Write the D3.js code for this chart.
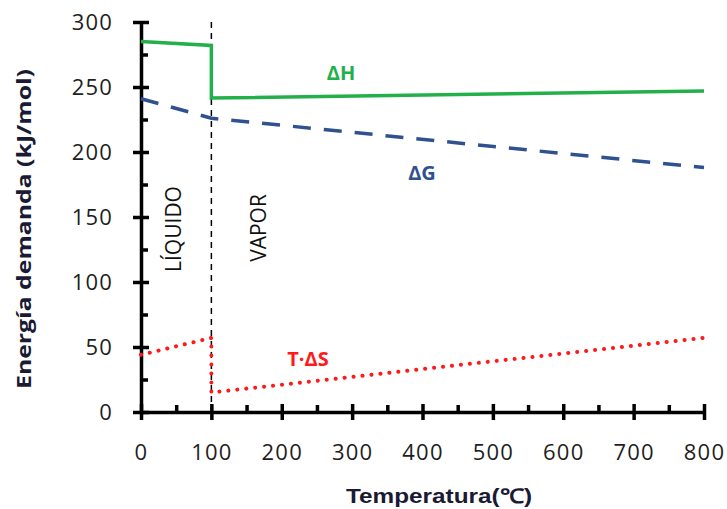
<!DOCTYPE html>
<html lang="es">
<head>
<meta charset="UTF-8">
<script src="https://d3js.org/d3.v7.min.js"></script>
<style>
  body { margin:0; background:#fff; }
  svg { display:block; font-family:"Open Sans", "Liberation Sans", sans-serif; }
  .lbl { font-weight:bold; font-size:20px; }
</style>
</head>
<body>
<svg id="chart" width="727" height="509"></svg>
<script>
// data
const dH_T = [0, 100, 100, 800];
const dH_E = [285, 282, 241.5, 247];
const dG_T = [0, 100, 800];
const dG_E = [241, 226, 188];
const tS_T = [0, 100, 100, 800];
const tS_E = [44, 57, 15, 57];
const xTicks = [0, 100, 200, 300, 400, 500, 600, 700, 800];
const yTicks = [0, 50, 100, 150, 200, 250, 300];

const svg = d3.select("#chart");
const margin = {top: 22, right: 23, bottom: 97, left: 141};
const x = d3.scaleLinear().domain([0, 800]).range([margin.left, 727 - margin.right]);
const y = d3.scaleLinear().domain([0, 300]).range([509 - margin.bottom, margin.top]);

// minor ticks
svg.append("g")
  .attr("transform", `translate(0,${y(0)})`)
  .call(d3.axisTop(x).tickValues(d3.range(50, 800, 100)).tickSize(7).tickFormat(""))
  .call(g => g.select(".domain").remove())
  .selectAll("line").attr("stroke", "#000").attr("stroke-width", 3);
svg.append("g")
  .attr("transform", `translate(${x(0)},0)`)
  .call(d3.axisRight(y).tickValues(d3.range(25, 300, 50)).tickSize(7).tickFormat(""))
  .call(g => g.select(".domain").remove())
  .selectAll("line").attr("stroke", "#000").attr("stroke-width", 3);

// main axes
const xAxisG = svg.append("g")
  .attr("transform", `translate(0,${y(0)})`)
  .call(d3.axisBottom(x).tickValues(xTicks).tickSize(8).tickSizeOuter(0).tickPadding(24));
xAxisG.selectAll(".tick line").clone().attr("y2", -8);
const yAxisG = svg.append("g")
  .attr("transform", `translate(${x(0)},0)`)
  .call(d3.axisLeft(y).tickValues(yTicks).tickSize(8).tickSizeOuter(0).tickPadding(20));
yAxisG.selectAll(".tick line").clone().attr("x2", 8);
svg.selectAll(".domain, .tick line").attr("stroke", "#000").attr("stroke-width", 3.5);
xAxisG.selectAll(".tick text").attr("dy", "0.71em");
svg.selectAll(".tick text")
  .attr("font-size", 22).attr("letter-spacing", 1.2)
  .attr("font-family", "'Open Sans', sans-serif").attr("fill", "#1e1e1e");

// phase boundary
svg.append("line")
  .attr("x1", x(100)).attr("x2", x(100))
  .attr("y1", y(300)).attr("y2", y(0))
  .attr("stroke", "#000").attr("stroke-width", 1.5)
  .attr("stroke-dasharray", "6,5");

const line = d3.line().x(d => x(d[0])).y(d => y(d[1]));

svg.append("path")
  .datum(dH_T.map((t, i) => [t, dH_E[i]]))
  .attr("d", line).attr("fill", "none")
  .attr("stroke", "#23b04a").attr("stroke-width", 3.5);

svg.append("path")
  .datum(dG_T.map((t, i) => [t, dG_E[i]]))
  .attr("d", line).attr("fill", "none")
  .attr("stroke", "#2f5190").attr("stroke-width", 3.5)
  .attr("stroke-dasharray", "18,13");

svg.append("path")
  .datum(tS_T.map((t, i) => [t, tS_E[i]]))
  .attr("d", line).attr("fill", "none")
  .attr("stroke", "#ff1a1a").attr("stroke-width", 4)
  .attr("stroke-linecap", "round")
  .attr("stroke-dasharray", "0.1,8.9");

// labels
svg.append("text").attr("class", "lbl").attr("x", 341).attr("y", 80)
  .attr("text-anchor", "middle").attr("fill", "#23b04a").text("ΔH");
svg.append("text").attr("class", "lbl").attr("x", 422).attr("y", 180)
  .attr("text-anchor", "middle").attr("fill", "#2f5190").text("ΔG");
svg.append("text").attr("class", "lbl").attr("x", 308).attr("y", 366)
  .attr("text-anchor", "middle").attr("fill", "#ff1a1a").text("T·ΔS");

svg.append("text")
  .attr("transform", "translate(181,229) rotate(-90)")
  .attr("text-anchor", "middle").attr("font-size", 21).attr("fill", "#111")
  .text("LÍQUIDO");
svg.append("text")
  .attr("transform", "translate(266,228) rotate(-90)")
  .attr("text-anchor", "middle").attr("font-size", 21).attr("fill", "#111")
  .text("VAPOR");

svg.append("text")
  .attr("transform", "translate(31,229) rotate(-90)")
  .attr("text-anchor", "middle").attr("font-size", 20).attr("font-weight", "bold").attr("fill", "#1a1a33")
  .attr("textLength", 320).attr("lengthAdjust", "spacingAndGlyphs")
  .text("Energía demanda (kJ/mol)");
svg.append("text")
  .attr("x", 439).attr("y", 503)
  .attr("text-anchor", "middle").attr("font-size", 20).attr("font-weight", "bold").attr("fill", "#1a1a33")
  .attr("font-family", "'Liberation Sans Narrow', 'Liberation Sans', sans-serif")
  .attr("textLength", 186).attr("lengthAdjust", "spacingAndGlyphs")
  .text("Temperatura(℃)");
</script>
</body>
</html>
